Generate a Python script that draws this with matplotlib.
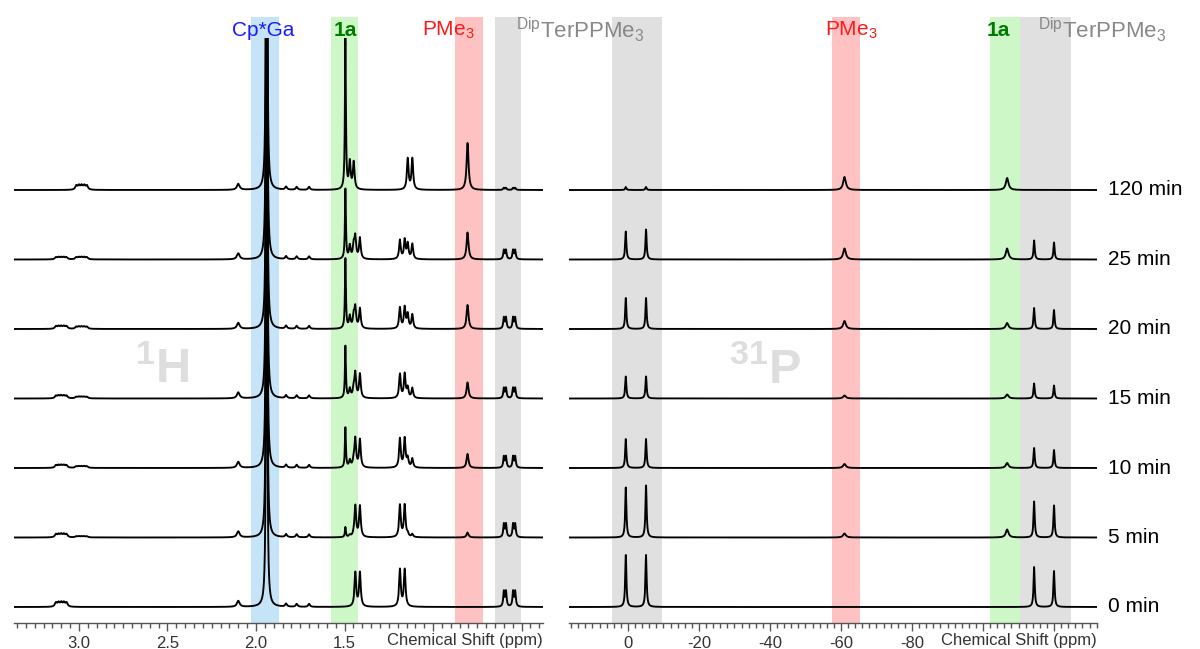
import numpy as np
import matplotlib
matplotlib.use("Agg")
import matplotlib.pyplot as plt
import matplotlib.transforms as mtransforms
from matplotlib.ticker import FixedLocator, FixedFormatter, MultipleLocator

plt.rcParams['font.family'] = ['Liberation Sans', 'DejaVu Sans']
plt.rcParams['mathtext.fontset'] = 'custom'
plt.rcParams['mathtext.rm'] = 'Liberation Sans'
plt.rcParams['mathtext.it'] = 'Liberation Sans:italic'
plt.rcParams['mathtext.bf'] = 'Liberation Sans:bold'

# ---------------------------------------------------------------- data
times = ["0 min", "5 min", "10 min", "15 min", "20 min", "25 min", "120 min"]

# 1H signals: line positions (ppm), half width (ppm), peak height per spectrum
h_ch_pos = [3.130, 3.115, 3.100, 3.085, 3.070]
h_ch_hw = 0.007
h_ch_amp = [4, 3, 2.5, 2.5, 2.5, 2, 0]

h_ch2_pos = [3.015, 3.000, 2.985, 2.970, 2.955]
h_ch2_hw = 0.007
h_ch2_amp = [0, 1, 1.5, 1.5, 2, 2, 4]

h_210_pos = [2.100]
h_210_hw = 0.009
h_210_amp = [6, 6, 6, 6, 6, 6, 6]

h_cpga_pos = [1.940]
h_cpga_hw = 0.0026
h_cpga_amp = [900, 900, 900, 900, 900, 900, 900]

h_small_pos = [1.830, 1.770, 1.700]
h_small_hw = 0.006
h_small_amp = [3, 3, 3, 3, 3, 3, 3]

h_1a_pos = [1.495]
h_1a_hw = 0.0032
h_1a_amp = [0, 10, 40, 52, 70, 70, 152]

h_1a_ipr_pos = [1.470, 1.448]
h_1a_ipr_hw = 0.0055
h_1a_ipr_amp = [0, 2, 7, 9, 12, 13, 27]

h_ter_ipr_pos = [1.439, 1.413]
h_ter_ipr_hw = 0.0055
h_ter_ipr_amp = [34, 31, 28, 24, 20, 21, 0]

h_ter_ipr2_pos = [1.187, 1.160]
h_ter_ipr2_hw = 0.0055
h_ter_ipr2_amp = [37, 32, 29, 24, 21, 19, 0]

h_1a_ipr2_pos = [1.143, 1.117]
h_1a_ipr2_hw = 0.0055
h_1a_ipr2_amp = [0, 3, 9, 10, 14, 15, 31]

h_pme3_pos = [0.805]
h_pme3_hw = 0.0065
h_pme3_amp = [0, 5, 14, 16, 24, 27, 47]

h_terpme_pos = [0.600, 0.588, 0.548, 0.536]
h_terpme_hw = 0.0042
h_terpme_amp = [15, 13, 11, 10, 11, 9, 2]

# 31P signals
p_ter_a_pos = [0.6]
p_ter_a_amp = [52, 50, 29, 22, 31, 28, 3]
p_ter_b_pos = [-5.1]
p_ter_b_amp = [52, 52, 29, 22, 31, 30, 3]
p_pme3_pos = [-61.0]
p_pme3_amp = [0, 4, 4, 3, 8, 11, 13]
p_1a_pos = [-106.8]
p_1a_amp = [0, 8, 5, 4, 6, 11, 12]
p_ter_c_pos = [-114.4]
p_ter_c_amp = [40, 36, 20, 15, 21, 19, 0]
p_ter_d_pos = [-120.0]
p_ter_d_amp = [36, 32, 18, 13, 19, 17, 0]
p_hw_sharp = 0.2
p_hw_broad = 0.45

# highlighted regions (ppm)
h_bands = [(2.03, 1.87, '#c6e4f7'), (1.576, 1.424, '#cdf7c6'),
           (0.876, 0.718, '#ffc2c2'), (0.650, 0.503, '#e0e0e0')]
p_bands = [(4.5, -9.6, '#e0e0e0'), (-57.5, -65.4, '#ffc2c2'),
           (-102.0, -110.4, '#cdf7c6'), (-110.4, -124.8, '#e0e0e0')]

h_xlim = (3.367, 0.379)
p_xlim = (16.6, -132.1)
stack_step = 69.5


def lorentz(x, centres, hw, amp):
    y = np.zeros_like(x)
    for c in centres:
        y += amp * hw ** 2 / ((x - c) ** 2 + hw ** 2)
    return y


h_signals = [
    (h_ch_pos, h_ch_hw, h_ch_amp), (h_ch2_pos, h_ch2_hw, h_ch2_amp),
    (h_210_pos, h_210_hw, h_210_amp), (h_cpga_pos, h_cpga_hw, h_cpga_amp),
    (h_small_pos, h_small_hw, h_small_amp), (h_1a_pos, h_1a_hw, h_1a_amp),
    (h_1a_ipr_pos, h_1a_ipr_hw, h_1a_ipr_amp),
    (h_ter_ipr_pos, h_ter_ipr_hw, h_ter_ipr_amp),
    (h_ter_ipr2_pos, h_ter_ipr2_hw, h_ter_ipr2_amp),
    (h_1a_ipr2_pos, h_1a_ipr2_hw, h_1a_ipr2_amp),
    (h_pme3_pos, h_pme3_hw, h_pme3_amp),
    (h_terpme_pos, h_terpme_hw, h_terpme_amp),
]
p_signals = [
    (p_ter_a_pos, p_hw_sharp, p_ter_a_amp), (p_ter_b_pos, p_hw_sharp, p_ter_b_amp),
    (p_pme3_pos, p_hw_broad, p_pme3_amp), (p_1a_pos, p_hw_broad, p_1a_amp),
    (p_ter_c_pos, p_hw_sharp, p_ter_c_amp), (p_ter_d_pos, p_hw_sharp, p_ter_d_amp),
]

# ---------------------------------------------------------------- figure
W, H = 1200, 649
fig = plt.figure(figsize=(W / 100, H / 100), dpi=100)
bottom_px, top_px = 623, 38
ax_h = fig.add_axes([14 / W, 1 - bottom_px / H, (543 - 14) / W, (bottom_px - top_px) / H])
ax_p = fig.add_axes([569 / W, 1 - bottom_px / H, (1097 - 569) / W, (bottom_px - top_px) / H])
ax_h.set_zorder(2)
ax_p.set_zorder(1)

ylim = (-16, 569)
band_top = (bottom_px - 17) / (bottom_px - top_px)

for ax, xlim, bands, signals, npts in [
        (ax_h, h_xlim, h_bands, h_signals, 16000),
        (ax_p, p_xlim, p_bands, p_signals, 14000)]:
    for lo, hi, col in bands:
        ax.axvspan(lo, hi, ymin=0, ymax=band_top, color=col, lw=0,
                   zorder=0, clip_on=False)
    x = np.linspace(xlim[1], xlim[0], npts)
    for i in range(len(times)):
        y = np.zeros_like(x)
        for pos, hw, amp in signals:
            y += lorentz(x, pos, hw, amp[i])
        ax.plot(x, y + i * stack_step, color='black', lw=1.35, zorder=3)
    ax.set_xlim(*xlim)
    ax.set_ylim(*ylim)
    ax.set_facecolor('none')
    for s in ('top', 'left', 'right'):
        ax.spines[s].set_visible(False)
    ax.spines['bottom'].set_color('#555555')
    ax.spines['bottom'].set_linewidth(1.0)
    ax.set_yticks([])
    ax.tick_params(axis='x', which='major', length=6, width=1, color='#555555',
                   labelsize=12, labelcolor='#333333', pad=3)
    ax.tick_params(axis='x', which='minor', length=3.5, width=1, color='#555555')
    ax.text(1.0, -(645 - bottom_px) / (bottom_px - top_px), 'Chemical Shift (ppm)',
            transform=ax.transAxes, ha='right', va='baseline', fontsize=12,
            color='#333333')

ax_h.xaxis.set_major_locator(FixedLocator([3.0, 2.5, 2.0, 1.5, 1.0, 0.5]))
ax_h.xaxis.set_major_formatter(FixedFormatter(['3.0', '2.5', '2.0', '1.5', '', '']))
ax_h.xaxis.set_minor_locator(MultipleLocator(0.05))
ax_p.xaxis.set_major_locator(FixedLocator([0, -20, -40, -60, -80, -100, -120]))
ax_p.xaxis.set_major_formatter(FixedFormatter(['0', '-20', '-40', '-60', '-80', '', '']))
ax_p.xaxis.set_minor_locator(MultipleLocator(2))

# signal assignments above the stacks
lab_y = (bottom_px - 30) / (bottom_px - top_px)
tr_h = mtransforms.blended_transform_factory(ax_h.transData, ax_h.transAxes)
tr_p = mtransforms.blended_transform_factory(ax_p.transData, ax_p.transAxes)
fs_lab = 15
ter_label = r'$^{\mathrm{Dip}}$TerPPMe$_3$'
ax_h.text(1.96, lab_y, 'Cp*Ga', transform=tr_h, ha='center', va='center',
          fontsize=fs_lab, color='#1a1aff', clip_on=False)
ax_h.text(1.497, lab_y, '1a', transform=tr_h, ha='center', va='center',
          fontsize=fs_lab, color='#007a00', fontweight='bold', clip_on=False)
ax_h.text(0.915, lab_y, r'PMe$_3$', transform=tr_h, ha='center', va='center',
          fontsize=fs_lab, color='#ff1a1a', clip_on=False)
ax_h.text(0.169, lab_y, ter_label, transform=tr_h,
          ha='center', va='center', fontsize=16, color='#888888', clip_on=False)
ax_p.text(-62.8, lab_y, r'PMe$_3$', transform=tr_p, ha='center', va='center',
          fontsize=fs_lab, color='#ff1a1a', clip_on=False)
ax_p.text(-104.2, lab_y, '1a', transform=tr_p, ha='center', va='center',
          fontsize=fs_lab, color='#007a00', fontweight='bold', clip_on=False)
ax_p.text(-133.5, lab_y, ter_label, transform=tr_p,
          ha='center', va='center', fontsize=16, color='#888888', clip_on=False)

# nucleus labels
ax_h.text(2.53, 237, r'$^{\mathbf{1}}\mathbf{H}$', ha='center', va='center',
          fontsize=35, color='#dedede', zorder=1)
ax_p.text(-38.6, 237, r'$^{\mathbf{31}}\mathbf{P}$', ha='center', va='center',
          fontsize=35, color='#dedede', zorder=1)

# reaction times at the right of each trace
tr_t = mtransforms.blended_transform_factory(ax_p.transAxes, ax_p.transData)
for i, t in enumerate(times):
    ax_p.text(1.021, i * stack_step, t, transform=tr_t, ha='left', va='center',
              fontsize=15, color='black', clip_on=False)

fig.savefig('out.png', dpi=100, facecolor='white')
